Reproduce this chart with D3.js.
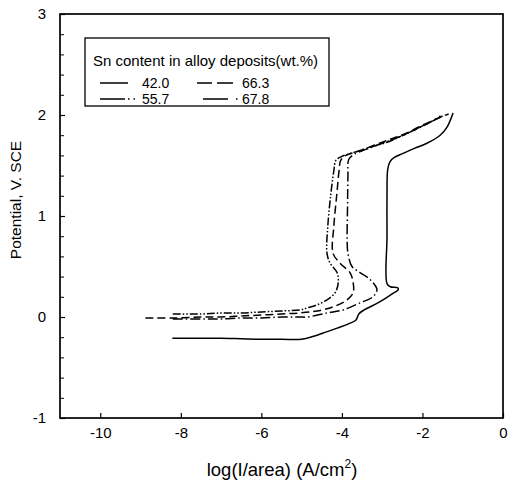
<!DOCTYPE html>
<html>
<head>
<meta charset="utf-8">
<script src="https://cdn.jsdelivr.net/npm/d3@7"></script>
<style>
  html, body { margin: 0; padding: 0; background: #fff; }
  svg { display: block; font-family: "Liberation Sans", Arial, sans-serif; }
</style>
</head>
<body>
<svg id="chart" width="510" height="486"></svg>
<script>
// Anodic polarization curves of Sn alloy deposits
const seriesNames = ["42.0", "55.7", "66.3", "67.8"];
const xTickValues = [-10, -8, -6, -4, -2, 0];
const yTickValues = [-1, 0, 1, 2, 3];

// log(I/area) and potential (V vs SCE) for each deposit
const logI_42 = [-8.21, -7.5, -7.0, -6.5, -6.0, -5.5, -5.0, -4.7, -4.4, -4.12, -3.85, -3.65, -3.58, -3.45, -3.2, -2.98, -2.75, -2.6, -2.62, -2.8, -2.88, -2.88, -2.88, -2.86, -2.8, -2.7, -2.48, -2.2, -1.89, -1.56, -1.39, -1.24];
const E_42    = [-0.21, -0.21, -0.21, -0.215, -0.22, -0.22, -0.22, -0.19, -0.15, -0.11, -0.07, -0.03, 0.03, 0.07, 0.12, 0.17, 0.23, 0.27, 0.29, 0.30, 0.33, 0.8, 1.2, 1.47, 1.54, 1.58, 1.62, 1.67, 1.72, 1.80, 1.88, 2.02];

const logI_557 = [-8.2, -7.5, -7.0, -6.5, -6.0, -5.5, -5.04, -4.86, -4.62, -4.37, -4.17, -4.09, -4.12, -4.29, -4.37, -4.35, -4.28, -4.2, -4.15, -4.0, -3.7, -3.3, -2.88, -2.48, -2.06, -1.7, -1.45];
const E_557    = [0.03, 0.03, 0.04, 0.04, 0.05, 0.06, 0.07, 0.09, 0.12, 0.17, 0.24, 0.34, 0.44, 0.53, 0.63, 0.9, 1.2, 1.45, 1.55, 1.59, 1.63, 1.68, 1.73, 1.80, 1.88, 1.95, 2.0];

const logI_663 = [-8.88, -8.2, -7.5, -7.0, -6.5, -6.0, -5.5, -5.04, -4.62, -4.22, -3.87, -3.72, -3.72, -3.8, -4.04, -4.22, -4.2, -4.13, -4.07, -4.03, -3.9, -3.6, -3.2, -2.8, -2.4, -2.0, -1.6, -1.35];
const E_663    = [-0.01, -0.01, 0.0, 0.0, 0.01, 0.02, 0.03, 0.04, 0.06, 0.10, 0.17, 0.24, 0.34, 0.44, 0.53, 0.63, 0.9, 1.2, 1.45, 1.55, 1.6, 1.64, 1.70, 1.76, 1.82, 1.9, 1.97, 2.01];

const logI_678 = [-8.2, -7.5, -7.0, -6.5, -6.0, -5.5, -5.04, -4.86, -4.37, -3.97, -3.55, -3.23, -3.13, -3.3, -3.55, -3.75, -3.85, -3.87, -3.86, -3.85, -3.83, -3.7, -3.4, -3.0, -2.6, -2.2, -1.8, -1.55];
const E_678    = [-0.02, -0.02, -0.02, -0.01, -0.01, 0.0, 0.0, 0.0, 0.04, 0.07, 0.14, 0.20, 0.27, 0.37, 0.44, 0.50, 0.63, 0.76, 1.1, 1.4, 1.56, 1.61, 1.66, 1.72, 1.78, 1.85, 1.93, 1.99];

const seriesX = [logI_42, logI_557, logI_663, logI_678];
const seriesY = [E_42, E_557, E_663, E_678];
const dashes = ["none", "8,2,1.5,2,1.5,2", "8,4", "10,3,1.5,3"];

const svg = d3.select("#chart");
svg.append("rect").attr("width", 510).attr("height", 486).attr("fill", "#fff");

const plotL = 60, plotR = 503, plotT = 14, plotB = 418;
const x = d3.scaleLinear().domain([-11, 0]).range([plotL, plotR]);
const y = d3.scaleLinear().domain([-1, 3]).range([plotB, plotT]);

// curves
const line = d3.line().x(d => x(d[0])).y(d => y(d[1])).curve(d3.curveCatmullRom.alpha(0.5));
seriesNames.forEach((name, i) => {
  const pts = seriesX[i].map((v, j) => [v, seriesY[i][j]]);
  svg.append("path")
    .datum(pts)
    .attr("d", line)
    .attr("fill", "none")
    .attr("stroke", "#000")
    .attr("stroke-width", 1.5)
    .attr("stroke-dasharray", dashes[i]);
});

// frame
svg.append("rect")
  .attr("x", plotL).attr("y", plotT)
  .attr("width", plotR - plotL).attr("height", plotB - plotT)
  .attr("fill", "none").attr("stroke", "#000").attr("stroke-width", 1.7);

const fmt = d => String(d);

// x axis: inward ticks
const xAxis = d3.axisBottom(x).tickValues(xTickValues).tickSize(-5).tickPadding(9).tickFormat(fmt);
const gx = svg.append("g").attr("transform", `translate(0,${plotB})`).call(xAxis);
gx.select(".domain").remove();
gx.selectAll("line").attr("stroke-width", 1.2);
gx.selectAll("text").attr("font-size", 15).attr("font-family", "Liberation Sans, Arial, sans-serif").attr("fill", "#000");

// y axis: inward major + minor ticks
const yMinor = d3.range(-1, 3.0001, 0.2).filter(v => Math.abs(v - Math.round(v)) > 1e-6);
const gyMinor = svg.append("g").attr("transform", `translate(${plotL},0)`)
  .call(d3.axisLeft(y).tickValues(yMinor).tickSize(-4).tickFormat(""));
gyMinor.select(".domain").remove();
gyMinor.selectAll("line").attr("stroke-width", 1);

const yAxis = d3.axisLeft(y).tickValues(yTickValues).tickSize(-5).tickPadding(14).tickFormat(fmt);
const gy = svg.append("g").attr("transform", `translate(${plotL},0)`).call(yAxis);
gy.select(".domain").remove();
gy.selectAll("line").attr("stroke-width", 1.2);
gy.selectAll("text").attr("font-size", 15).attr("font-family", "Liberation Sans, Arial, sans-serif").attr("fill", "#000");

// axis titles
const xt = svg.append("text").attr("x", 282).attr("y", 476).attr("text-anchor", "middle")
  .attr("font-size", 18.5).attr("fill", "#000");
xt.append("tspan").text("log(I/area) (A/cm");
xt.append("tspan").attr("dy", -8).attr("font-size", 12).text("2");
xt.append("tspan").attr("dy", 8).text(")");

svg.append("text")
  .attr("transform", "translate(21,200) rotate(-90)")
  .attr("text-anchor", "middle").attr("font-size", 15.5).attr("fill", "#000")
  .text("Potential, V. SCE");

// legend
const lg = svg.append("g");
lg.append("rect").attr("x", 85).attr("y", 38).attr("width", 244).attr("height", 68)
  .attr("fill", "#fff").attr("stroke", "#000").attr("stroke-width", 1.3);
lg.append("text").attr("x", 93).attr("y", 66).attr("font-size", 15).attr("fill", "#000")
  .text("Sn content in alloy deposits(wt.%)");
const legendLines = [[100, 128, 83], [100, 136, 99], [197, 233, 83], [203, 238.5, 99]];
const legendDashes = ["none", "25,3,1.5,4,1.5,10", "15,5,16,10", "25,8,1.5,10"];
const legendTextX = [142, 142, 242, 242];
seriesNames.forEach((name, i) => {
  const [x1, x2, ly] = legendLines[i];
  lg.append("line").attr("x1", x1).attr("x2", x2).attr("y1", ly).attr("y2", ly)
    .attr("stroke", "#000").attr("stroke-width", 1.5).attr("stroke-dasharray", legendDashes[i]);
  lg.append("text").attr("x", legendTextX[i]).attr("y", ly + 5).attr("font-size", 14).attr("fill", "#000").text(name);
});
</script>
</body>
</html>
